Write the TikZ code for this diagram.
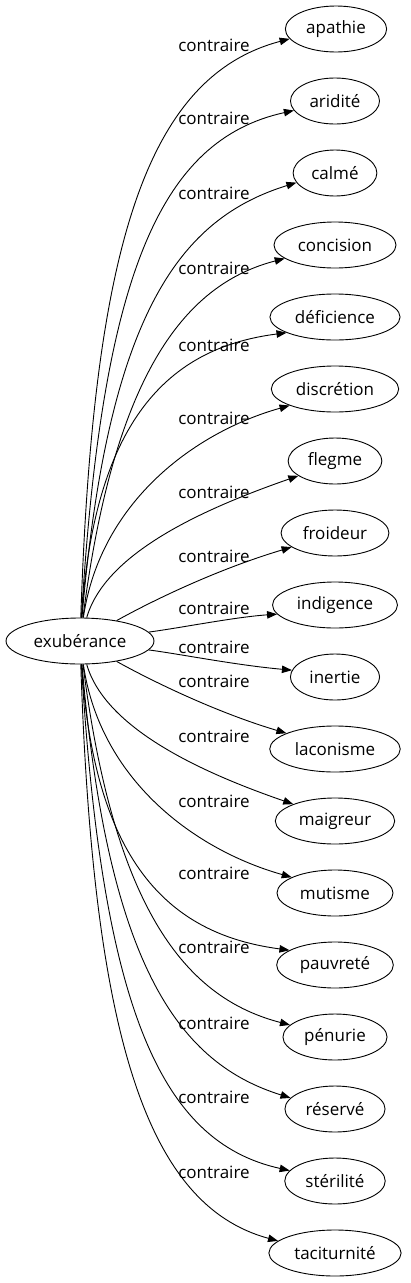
\documentclass[tikz,border=0pt]{standalone}
\usepackage{fontspec}
\setmainfont{Open Sans}
\usetikzlibrary{shapes.geometric,arrows.meta}
\begin{document}
\begin{tikzpicture}[x=1pt,y=-1pt,
  word/.style={ellipse, draw, line width=0.9pt, minimum height=46pt, inner xsep=6pt, inner ysep=2pt, font=\fontsize{17}{20}\selectfont},
  lbl/.style={font=\fontsize{17}{20}\selectfont, inner sep=0pt},
  edge/.style={line width=0.9pt, -{Triangle[length=10pt,width=7.5pt]}}]
\useasboundingbox (0,0) rectangle (410,1283);
\node[word] (c) at (80,641) {exubérance};
\node[word] (n0) at (336,29) {apathie};
\node[word] (n1) at (335,101) {aridité};
\node[word] (n2) at (335,173) {calmé};
\node[word] (n3) at (335,245) {concision};
\node[word] (n4) at (335,317) {déficience};
\node[word] (n5) at (335,389) {discrétion};
\node[word] (n6) at (335,461) {flegme};
\node[word] (n7) at (335,533) {froideur};
\node[word] (n8) at (335,605) {indigence};
\node[word] (n9) at (335,677) {inertie};
\node[word] (n10) at (335,749) {laconisme};
\node[word] (n11) at (335,821) {maigreur};
\node[word] (n12) at (335,893) {mutisme};
\node[word] (n13) at (335,965) {pauvreté};
\node[word] (n14) at (335,1037) {pénurie};
\node[word] (n15) at (335,1109) {réservé};
\node[word] (n16) at (335,1181) {stérilité};
\node[word] (n17) at (335,1253) {taciturnité};
% upper half
\draw[edge] (c) .. controls (93,250) and (145,77) .. (n0.192);
\draw[edge] (c) .. controls (102,275) and (160,140) .. (n1.193);
\draw[edge] (c) .. controls (108,310) and (182,218) .. (n2.194);
\draw[edge] (c) .. controls (115,365) and (190,283) .. (n3.195);
\draw[edge] (c) .. controls (95,412) and (175,347) .. (n4.198);
\draw[edge] (c) .. controls (100,502) and (195,432) .. (n5.200);
\draw[edge] (c) .. controls (105,554) and (200,510) .. (n6.202);
\draw[edge] (c) .. controls (150,602) and (215,570) .. (n7.198);
\draw[edge] (c) .. controls (180,628) and (235,617) .. (n8.189);
% lower half
\draw[edge] (c) .. controls (180,654) and (235,665) .. (n9.171);
\draw[edge] (c) .. controls (150,680) and (215,712) .. (n10.162);
\draw[edge] (c) .. controls (105,728) and (200,772) .. (n11.158);
\draw[edge] (c) .. controls (100,780) and (195,850) .. (n12.160);
\draw[edge] (c) .. controls (95,870) and (175,935) .. (n13.162);
\draw[edge] (c) .. controls (115,917) and (190,999) .. (n14.165);
\draw[edge] (c) .. controls (108,972) and (182,1064) .. (n15.166);
\draw[edge] (c) .. controls (102,1007) and (160,1142) .. (n16.167);
\draw[edge] (c) .. controls (93,1032) and (145,1205) .. (n17.168);
% labels
\node[lbl] (l0) at (214,45) {contraire};
\node[lbl] (l1) at (214,118) {contraire};
\node[lbl] (l2) at (214,193) {contraire};
\node[lbl] (l3) at (214,268) {contraire};
\node[lbl] (l4) at (214,345) {contraire};
\node[lbl] (l5) at (214,418) {contraire};
\node[lbl] (l6) at (214,492) {contraire};
\node[lbl] (l7) at (214,556) {contraire};
\node[lbl] (l8) at (214,608) {contraire};
\node[lbl] (l9) at (214,647) {contraire};
\node[lbl] (l10) at (214,681) {contraire};
\node[lbl] (l11) at (214,736) {contraire};
\node[lbl] (l12) at (214,801) {contraire};
\node[lbl] (l13) at (214,873) {contraire};
\node[lbl] (l14) at (214,947) {contraire};
\node[lbl] (l15) at (214,1023) {contraire};
\node[lbl] (l16) at (214,1097) {contraire};
\node[lbl] (l17) at (214,1172) {contraire};
\end{tikzpicture}
\end{document}
